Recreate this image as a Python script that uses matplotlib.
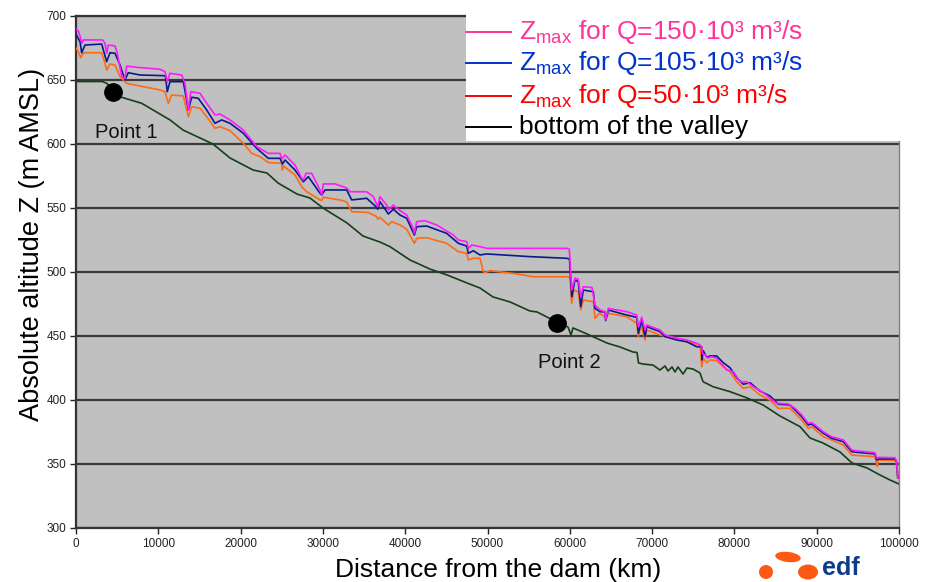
import numpy as np
import matplotlib.pyplot as plt
from matplotlib.lines import Line2D
from matplotlib.patches import Rectangle, Ellipse

plt.rcParams['font.family'] = ['Liberation Sans', 'DejaVu Sans']
plt.rcParams['mathtext.default'] = 'regular'

# ------------------------------------------------------------
# Profiles along the valley: (distance from dam [m], altitude [m AMSL])
# ------------------------------------------------------------
zmax_150 = [
    (0, 689.6), (280, 688.5), (570, 682.6), (730, 678.9), (890, 681.3),
    (3240, 681.3), (3520, 678.7), (3730, 670.9), (3920, 677.3), (4740, 676.6),
    (5020, 670.9), (5550, 652.6), (5950, 651.3), (6160, 660.9), (7380, 659.9),
    (10210, 658.4), (10810, 656.5), (11090, 648.7), (11420, 655.2), (12840, 653.9),
    (13240, 647.4), (13650, 626.6), (13940, 640.9), (15070, 639.6), (15880, 631.8),
    (16890, 622.7), (17500, 623.4), (18710, 618.8), (20330, 610.9), (21960, 597.9),
    (23370, 592.7), (24790, 592.7), (25000, 588.3), (25400, 591.4), (26610, 583.6),
    (27430, 573.2), (27620, 571.9), (27950, 577.1), (28640, 577.1), (29650, 564.1),
    (29850, 560.2), (30050, 568.8), (31470, 568.8), (32890, 565.6), (33290, 562.7),
    (35320, 562.7), (36130, 558.8), (36660, 551.0), (36940, 558.8), (37750, 552.3),
    (37950, 548.4), (38560, 552.3), (38970, 550.0), (39580, 547.1), (40180, 544.5),
    (40990, 534.1), (41110, 530.2), (41400, 539.3), (42410, 540.1), (43830, 536.7),
    (45040, 532.0), (45850, 528.9), (46460, 525.0), (47470, 523.7), (47670, 518.5),
    (48080, 521.1), (49090, 519.8), (49900, 518.5), (59630, 518.5), (59940, 517.7),
    (60110, 500.2), (60230, 485.9), (60630, 495.1), (61030, 494.3), (61330, 480.7),
    (61640, 488.5), (62700, 487.9), (63060, 474.2), (63670, 470.3), (64280, 469.0),
    (64360, 462.5), (64680, 471.6), (66910, 469.0), (68130, 466.4), (68330, 457.3),
    (68740, 464.7), (69140, 454.7), (69350, 458.6), (70960, 454.7), (71570, 450.8),
    (72990, 448.2), (74210, 446.9), (75620, 443.8), (76030, 441.6), (76100, 436.5),
    (76440, 435.2), (76710, 432.8), (77250, 433.8), (77850, 432.6), (79070, 423.4),
    (79870, 422.1), (80680, 414.3), (81500, 414.3), (82300, 410.4), (83320, 406.5),
    (84120, 402.6), (85140, 397.4), (86550, 396.9), (87370, 393.5), (88180, 388.3),
    (88980, 381.8), (89390, 382.3), (89790, 380.5), (90800, 375.2), (91820, 371.3),
    (93240, 368.8), (94260, 360.9), (94650, 360.4), (97080, 358.8), (97290, 354.7),
    (97490, 355.2), (99520, 354.9), (99720, 351.8), (99850, 339.0),
]

zmax_105 = [
    (0, 685.9), (490, 679.9), (690, 671.3), (1090, 677.3), (3120, 678.1),
    (3730, 664.3), (4130, 671.3), (4740, 670.9), (5350, 661.7), (5950, 650.0),
    (6350, 655.7), (7780, 653.9), (10610, 653.4), (10870, 653.1), (11090, 640.9),
    (11420, 648.7), (13040, 648.7), (13650, 626.6), (14060, 636.5), (14860, 635.7),
    (15880, 626.6), (16890, 616.2), (17700, 618.8), (18710, 616.2), (20330, 608.4),
    (21960, 596.6), (23370, 588.8), (24790, 588.8), (25090, 584.4), (25400, 587.5),
    (26610, 579.7), (27620, 570.5), (28230, 574.5), (29650, 561.5), (29850, 560.2),
    (30260, 564.1), (32890, 564.1), (33500, 556.3), (35320, 557.6), (36540, 550.5),
    (36660, 549.0), (36940, 554.9), (37950, 545.3), (38560, 549.0), (39370, 544.5),
    (40180, 542.0), (41110, 528.9), (41400, 535.4), (42610, 535.9), (45040, 530.2),
    (46460, 522.4), (47470, 520.3), (47670, 514.6), (48280, 516.6), (49090, 513.3),
    (49900, 514.1), (55170, 512.0), (59630, 510.7), (59960, 510.2), (60230, 480.7),
    (60630, 493.8), (61030, 492.4), (61330, 472.9), (61640, 485.9), (62860, 484.6),
    (63060, 471.6), (63670, 469.0), (64280, 468.8), (64360, 462.0), (64680, 470.3),
    (66910, 466.4), (68130, 464.6), (68330, 452.1), (68740, 462.5), (69140, 449.5),
    (69350, 457.3), (70960, 453.4), (71570, 449.5), (72990, 446.9), (74210, 445.5),
    (75420, 441.6), (76030, 441.6), (76050, 431.3), (76220, 438.5), (76630, 433.4),
    (77040, 434.4), (77850, 434.4), (78650, 429.1), (79470, 425.2), (80280, 417.4),
    (81080, 412.3), (81900, 413.5), (83110, 407.0), (84330, 403.1), (85340, 396.7),
    (86760, 396.1), (88180, 387.0), (88980, 380.5), (89390, 381.3), (90800, 374.0),
    (91820, 370.1), (93240, 367.4), (94260, 359.6), (97080, 357.8), (97290, 353.1),
    (97490, 353.9), (99520, 353.9), (99720, 351.6), (99850, 339.0),
]

zmax_50 = [
    (0, 674.8), (280, 672.1), (570, 667.4), (890, 671.3), (3120, 671.3),
    (3520, 663.0), (3730, 657.8), (4130, 662.5), (4740, 661.7), (5350, 652.6),
    (6160, 647.4), (7780, 645.3), (10210, 642.2), (10810, 640.9), (11220, 631.8),
    (11630, 638.3), (13040, 637.5), (13650, 621.3), (14060, 629.1), (15070, 627.9),
    (15880, 621.3), (16890, 612.3), (17500, 613.5), (18710, 610.4), (20330, 600.5),
    (21350, 592.7), (22360, 590.1), (23370, 585.5), (25000, 584.9), (25070, 579.7),
    (25200, 582.8), (26610, 575.8), (27430, 566.6), (28030, 562.7), (29650, 556.3),
    (29850, 555.9), (30050, 558.4), (32080, 556.3), (32890, 554.7), (33500, 547.1),
    (35520, 546.5), (36540, 543.2), (36660, 541.2), (36940, 542.7), (37950, 536.7),
    (38360, 539.3), (39370, 536.7), (40180, 533.4), (41110, 522.4), (41400, 526.3),
    (42610, 526.8), (45040, 522.4), (46460, 515.9), (47470, 514.6), (47670, 509.4),
    (48280, 510.7), (49090, 510.7), (49490, 500.2), (49700, 499.5), (50310, 501.0),
    (53140, 498.9), (55570, 496.3), (59630, 496.3), (59940, 496.1), (60030, 493.8),
    (60230, 475.6), (60510, 485.9), (61030, 484.6), (61330, 470.3), (61640, 478.1),
    (62860, 476.8), (63060, 463.8), (63590, 467.7), (64280, 465.2), (64360, 462.5),
    (64680, 467.7), (66910, 465.1), (68130, 459.9), (68330, 449.5), (68650, 458.6),
    (69140, 446.9), (69350, 454.7), (70960, 450.8), (72990, 448.2), (74210, 445.5),
    (75830, 443.0), (76030, 426.0), (76220, 432.6), (76630, 429.1), (77040, 431.3),
    (77850, 430.7), (78650, 426.0), (79470, 422.1), (80280, 414.3), (81080, 409.1),
    (81900, 410.4), (83110, 403.9), (84330, 400.0), (85340, 393.5), (86760, 393.5),
    (88180, 384.4), (88980, 377.9), (89390, 379.2), (90800, 371.3), (91820, 368.8),
    (93240, 364.8), (94260, 357.0), (97080, 355.7), (97360, 347.9), (97490, 353.1),
    (99640, 352.6), (99850, 339.0),
]

valley_bottom = [
    (0, 648.8), (3200, 648.8), (3730, 647.4), (5550, 636.5), (7980, 631.8),
    (11420, 618.8), (13000, 610.9), (16640, 600.0), (18710, 589.1), (21510, 579.7),
    (23210, 577.3), (24550, 569.5), (26850, 560.9), (28430, 557.8), (30010, 550.0),
    (32930, 538.3), (34870, 528.1), (36940, 523.4), (38150, 519.8), (40580, 509.4),
    (43010, 502.3), (45080, 497.7), (47510, 491.4), (49090, 487.5), (50670, 480.5),
    (52740, 476.6), (55170, 469.5), (56020, 468.8), (57230, 464.8), (58450, 460.9),
    (59780, 457.0), (60150, 450.8), (60390, 456.3), (62090, 451.6), (64520, 444.5),
    (66100, 441.4), (67680, 437.5), (68170, 437.1), (68350, 428.9), (68900, 428.1),
    (70110, 427.3), (70960, 423.4), (71570, 426.6), (71930, 422.7), (72420, 425.8),
    (72780, 421.9), (73150, 425.8), (73760, 420.3), (74240, 425.0), (74970, 424.2),
    (75820, 421.1), (76190, 414.3), (77400, 410.4), (79470, 406.5), (81540, 401.6),
    (83480, 396.1), (85540, 387.5), (87970, 379.2), (89190, 370.3), (90770, 366.4),
    (92830, 359.4), (94290, 350.8), (96110, 346.9), (97690, 341.4), (98910, 337.5),
    (100000, 334.4),
]

# observation points on the valley bottom, with label anchors
point_names = ["Point 1", "Point 2"]
point_x = [4500, 58500]
point_z = [641, 460.5]
label_x = [2300, 56100]
label_z = [604.5, 425]

x_ticks = list(range(0, 100001, 10000))
y_ticks = list(range(300, 701, 50))

legend_labels = [
    r'Z$_{max}$ for Q=150·10³ m³/s',
    r'Z$_{max}$ for Q=105·10³ m³/s',
    r'Z$_{max}$ for Q=50·10³ m³/s',
    'bottom of the valley',
]
legend_colors = ['#ff3399', '#0033cc', '#ff0000', '#000000']

# ------------------------------------------------------------
# Figure
# ------------------------------------------------------------
W, H = 930, 582
fig = plt.figure(figsize=(W / 100, H / 100), dpi=100)
ax = fig.add_axes([76 / W, 1 - 528 / H, 823 / W, 512 / H])
ax.set_facecolor('#c0c0c0')

for data, color in [(valley_bottom, '#14401a'), (zmax_50, '#ff6a13'),
                    (zmax_105, '#0a1a8c'), (zmax_150, '#ff19ff')]:
    arr = np.array(data)
    ax.plot(arr[:, 0], arr[:, 1], color=color, lw=1.2, zorder=3)

ax.plot(point_x, point_z, 'o', color='black', ms=12.5, zorder=4)
for name, lx, lz in zip(point_names, label_x, label_z):
    ax.text(lx, lz, name, fontsize=14.5, color='#111111', zorder=4)

ax.set_xlim(0, 100000)
ax.set_ylim(300, 700)
ax.set_xticks(x_ticks)
ax.set_yticks(y_ticks)
ax.grid(axis='y', color='#3a3a3a', lw=1.6)
ax.set_axisbelow(True)
ax.tick_params(direction='out', length=4, width=1, labelsize=8.5,
               colors='#222222', pad=3)
for side in ['left', 'bottom', 'top']:
    ax.spines[side].set_color('#333333')
    ax.spines[side].set_linewidth(1.6)
ax.spines['right'].set_color('#808080')
ax.spines['right'].set_linewidth(1.0)

ax.set_xlabel('Distance from the dam (km)', fontsize=19)
ax.set_ylabel('Absolute altitude Z (m AMSL)', fontsize=19.5)
ax.xaxis.set_label_coords(0.513, -0.058)
ax.yaxis.set_label_coords(-0.038, 0.553)

# legend block drawn over the upper right of the plot
fig.add_artist(Rectangle((466 / W, 1 - 141 / H), 1, 141 / H,
                         transform=fig.transFigure, facecolor='white',
                         edgecolor='none', zorder=5))
row_line_y = [31.7, 62.7, 95.7, 126.7]
for i, (lab, col) in enumerate(zip(legend_labels, legend_colors)):
    y = 1 - row_line_y[i] / H
    fig.add_artist(Line2D([466 / W, 511 / W], [y, y], transform=fig.transFigure,
                          color=col, lw=1.4, zorder=6))
    fig.text(519 / W, 1 - (row_line_y[i] + 7) / H, lab, color=col,
             fontsize=19, va='baseline', zorder=7)

# company logo in the lower right corner
for cx, cy, w, h, ang in [(766, 572, 14, 14, 0), (788, 557, 26, 10, -15),
                          (808, 572, 20, 15, 0)]:
    fig.add_artist(Ellipse((cx / W, 1 - cy / H), w / W, h / H, angle=ang,
                           transform=fig.transFigure, facecolor='#fe5815',
                           edgecolor='none', zorder=6))
fig.text(822 / W, 1 - 575 / H, 'edf', fontsize=18, fontweight='bold',
         color='#0d3b8c', va='baseline', zorder=7)

fig.savefig('out.png', dpi=100)
